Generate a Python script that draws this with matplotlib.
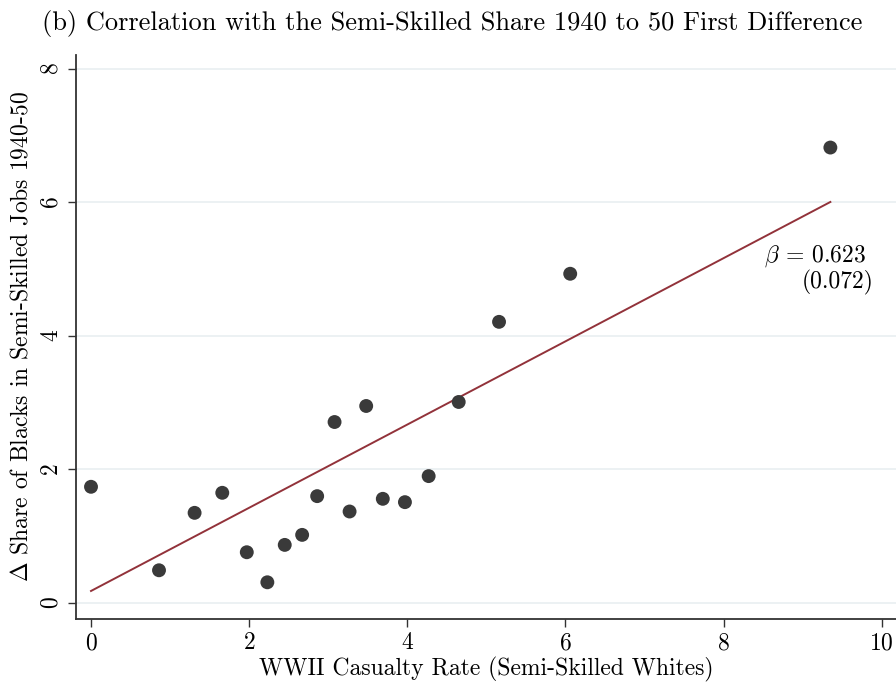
import numpy as np
import matplotlib
matplotlib.use("Agg")
import matplotlib.pyplot as plt

plt.rcParams["font.family"] = "cmr10"
plt.rcParams["mathtext.fontset"] = "cm"
plt.rcParams["axes.formatter.use_mathtext"] = True

# casualty rate (x) and change in black semi-skilled share (y)
casualty_rate = [0.0, 0.86, 1.31, 1.66, 1.97, 2.23, 2.45, 2.67, 2.86, 3.08,
                 3.27, 3.48, 3.69, 3.97, 4.27, 4.65, 5.16, 6.06, 9.35]
delta_share = [1.74, 0.49, 1.35, 1.65, 0.76, 0.31, 0.87, 1.02, 1.60, 2.71,
               1.37, 2.95, 1.56, 1.51, 1.90, 3.01, 4.21, 4.93, 6.82]

fit_slope = 0.623
fit_intercept = 0.18
se_text = "(0.072)"

x_ticks = [0, 2, 4, 6, 8, 10]
y_ticks = [0, 2, 4, 6, 8]

fig = plt.figure(figsize=(8.96, 6.84), dpi=100)
ax = fig.add_axes([0.0848, 0.095, 0.9152, 0.825])

x = np.array(casualty_rate)
y = np.array(delta_share)

for t in y_ticks:
    ax.axhline(t, color="#eaf0f2", lw=1.3, zorder=0)

xf = np.array([x.min(), x.max()])
ax.plot(xf, fit_intercept + fit_slope * xf, color="#92323a", lw=1.4, zorder=2)
ax.scatter(x, y, s=100, color="#3a3a3a", edgecolors="none", zorder=3)

ax.text(9.8, 5.19, r"$\beta$ = 0.623", ha="right", va="center", fontsize=17)
ax.text(9.9, 4.8, se_text, ha="right", va="center", fontsize=17)

ax.set_xlim(-0.19, 10.18)
ax.set_ylim(-0.24, 8.21)
ax.set_xticks(x_ticks)
ax.set_yticks(y_ticks)
ax.tick_params(axis="both", direction="out", length=6, width=1.0, color="#333333",
               labelsize=17)
for lbl in ax.get_yticklabels():
    lbl.set_rotation(90)
    lbl.set_va("center")

for s in ["top", "right"]:
    ax.spines[s].set_visible(False)
for s in ["left", "bottom"]:
    ax.spines[s].set_color("#333333")
    ax.spines[s].set_linewidth(1.3)

ax.set_xlabel("WWII Casualty Rate (Semi-Skilled Whites)", fontsize=17, labelpad=2)
ax.set_ylabel(r"$\Delta$ Share of Blacks in Semi-Skilled Jobs 1940-50", fontsize=17, labelpad=6)

fig.text(0.505, 0.965, "(b) Correlation with the Semi-Skilled Share 1940 to 50 First Difference",
         ha="center", va="center", fontsize=19)

fig.savefig("out.png", dpi=100)
